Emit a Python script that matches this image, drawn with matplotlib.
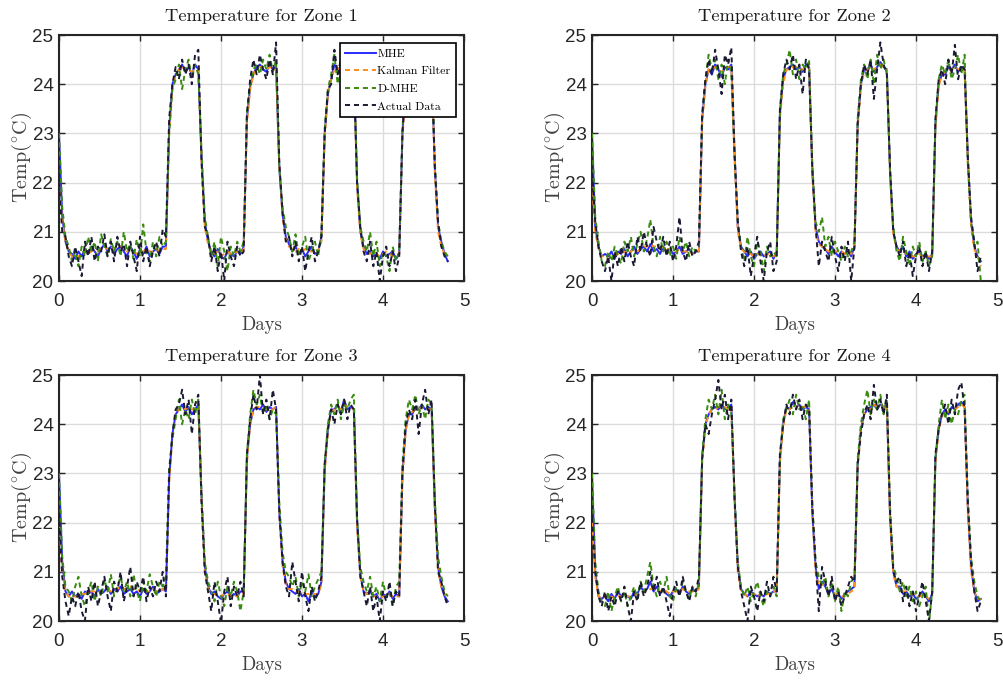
import numpy as np
import matplotlib
matplotlib.use("Agg")
import matplotlib.pyplot as plt

# ---------------- data (sampled every 0.04 day, 0 .. 4.8 days) ----------------
series_names = ["MHE", "Kalman Filter", "D-MHE", "Actual Data"]
zone_titles = ["Temperature for Zone 1", "Temperature for Zone 2",
               "Temperature for Zone 3", "Temperature for Zone 4"]
x_ticks = [0, 1, 2, 3, 4, 5]
y_ticks = [20, 21, 22, 23, 24, 25]

z1_mhe = [23.0, 21.3, 20.8, 20.6,
    20.55, 20.45, 20.6, 20.5, 20.65, 20.55, 20.7, 20.6, 20.5, 20.65, 20.75, 20.6, 20.7, 20.55, 20.65, 20.7, 20.6, 20.5, 20.7, 20.6, 20.45, 20.65, 20.55, 20.7, 20.5, 20.6, 20.65, 20.55, 20.7,
    20.7, 23.1, 24.0, 24.2,
    24.3, 24.4, 24.25, 24.35, 24.2, 24.4, 24.3,
    22.5, 21.2, 20.8,
    20.6, 20.5, 20.65, 20.5, 20.45, 20.6, 20.55, 20.5, 20.6, 20.55,
    20.7, 23.3, 23.95, 24.2,
    24.35, 24.4, 24.3, 24.25, 24.4, 24.3, 24.35,
    22.3, 21.35, 20.9, 20.75,
    20.6, 20.7, 20.55, 20.65, 20.5, 20.6, 20.7, 20.55, 20.6,
    20.9, 23.0, 23.8, 24.1,
    24.4, 24.3, 24.35, 24.2, 24.4, 24.3, 24.35,
    22.0, 21.0, 20.7,
    20.55, 20.6, 20.5, 20.55, 20.45, 20.6, 20.5, 20.55, 20.6, 20.45, 20.55,
    23.0, 24.0, 24.2,
    24.35, 24.3, 24.4, 24.3, 24.35, 24.25, 24.35,
    22.3, 21.1, 20.8, 20.55, 20.4]
z1_kf = [22.0, 21.2, 20.8, 20.6,
    20.5, 20.45, 20.5, 20.55, 20.6, 20.55, 20.6, 20.65, 20.6, 20.65, 20.7, 20.65, 20.7, 20.65, 20.7, 20.7, 20.65, 20.6, 20.65, 20.6, 20.55, 20.6, 20.6, 20.65, 20.6, 20.6, 20.65, 20.6, 20.65,
    20.65, 23.0, 23.9, 24.2,
    24.3, 24.35, 24.3, 24.3, 24.25, 24.3, 24.3,
    22.4, 21.1, 20.75,
    20.6, 20.55, 20.6, 20.5, 20.55, 20.6, 20.55, 20.55, 20.6, 20.55,
    20.65, 23.2, 23.9, 24.2,
    24.3, 24.35, 24.35, 24.3, 24.35, 24.3, 24.3,
    22.3, 21.3, 20.85, 20.7,
    20.65, 20.6, 20.65, 20.6, 20.65, 20.6, 20.6, 20.65, 20.6,
    20.8, 22.9, 23.8, 24.1,
    24.3, 24.3, 24.35, 24.3, 24.3, 24.35, 24.3,
    21.9, 20.95, 20.65,
    20.6, 20.55, 20.6, 20.55, 20.5, 20.55, 20.6, 20.55, 20.5, 20.55, 20.55,
    22.9, 23.9, 24.2,
    24.3, 24.3, 24.35, 24.3, 24.3, 24.3, 24.35,
    22.2, 21.0, 20.7, 20.55, 20.5]
z1_dmhe = [23.0, 21.5, 20.9, 20.7,
    20.4, 20.6, 20.3, 20.7, 20.5, 20.9, 20.6, 20.8, 20.4, 20.95, 20.7, 20.5, 20.85, 20.6, 20.8, 20.5, 21.0, 20.6, 20.75, 20.45, 20.85, 20.5, 21.15, 20.6, 20.4, 20.8, 20.5, 20.9, 20.7,
    20.8, 23.0, 23.9, 24.1,
    24.4, 23.9, 24.3, 24.5, 24.1, 24.4, 24.2,
    22.6, 21.3, 20.9,
    20.5, 20.8, 20.3, 20.9, 20.6, 20.2, 20.7, 20.5, 20.8, 20.6,
    20.8, 23.4, 24.0, 24.3,
    24.4, 24.2, 24.5, 24.3, 24.6, 24.25, 24.5,
    22.3, 21.5, 21.1, 20.9,
    20.6, 20.95, 20.5, 20.7, 20.9, 20.4, 20.6, 20.8, 20.5,
    21.0, 23.1, 23.9, 24.2,
    24.6, 24.0, 24.4, 24.2, 24.5, 24.3, 24.4,
    22.1, 21.1, 20.8,
    20.6, 21.0, 20.5, 20.8, 20.3, 20.6, 20.5, 20.2, 20.7, 20.4, 20.6,
    23.1, 24.0, 24.3,
    24.4, 24.2, 24.5, 24.3, 24.4, 24.2, 24.4,
    22.4, 21.2, 20.8, 20.6, 20.5]
z1_actual = [22.0, 21.0, 20.9, 20.5,
    20.3, 20.7, 20.4, 20.1, 20.8, 20.5, 20.9, 20.4, 20.7, 20.6, 20.95, 20.5, 20.8, 20.4, 20.9, 20.6, 20.75, 20.3, 20.8, 20.5, 20.2, 20.9, 20.4, 20.7, 20.3, 20.6, 20.8, 20.5, 21.05,
    20.9, 23.3, 24.0, 24.35,
    24.1, 24.5, 24.2, 24.4, 24.0, 24.6, 24.7,
    22.4, 21.1, 20.9,
    20.4, 20.7, 20.2, 20.6, 20.0, 20.8, 20.5, 20.3, 20.7, 20.5,
    20.6, 23.4, 24.1, 24.5,
    24.2, 24.6, 24.3, 24.1, 24.5, 24.2, 24.85,
    22.4, 21.4, 20.8, 20.9,
    20.5, 20.8, 20.4, 20.7, 20.2, 20.6, 20.9, 20.4, 20.6,
    20.9, 23.0, 23.9, 24.0,
    24.7, 24.2, 24.5, 23.9, 24.4, 24.6, 24.3,
    22.0, 21.1, 20.6,
    20.4, 20.8, 20.3, 20.6, 20.0, 20.5, 20.7, 20.3, 20.6, 20.2, 20.5,
    23.0, 24.1, 24.3,
    24.5, 24.2, 24.6, 24.3, 24.4, 24.1, 24.5,
    22.3, 21.2, 20.7, 20.5, 20.4]

z2_mhe = [23.0, 21.1, 20.7, 20.5,
    20.55, 20.5, 20.6, 20.45, 20.6, 20.55, 20.65, 20.5, 20.6, 20.7, 20.55, 20.65, 20.7, 20.6, 20.75, 20.6, 20.65, 20.55, 20.7, 20.6, 20.65, 20.55, 20.6, 20.7, 20.55, 20.6, 20.65, 20.55, 20.6,
    20.6, 23.3, 24.0, 24.3,
    24.2, 24.4, 24.3, 24.15, 24.35, 24.3, 24.4,
    22.6, 21.1, 20.7,
    20.6, 20.5, 20.6, 20.45, 20.55, 20.6, 20.5, 20.55, 20.6, 20.45,
    20.6, 23.4, 24.1, 24.3,
    24.35, 24.4, 24.3, 24.35, 24.25, 24.4, 24.35,
    22.2, 21.1, 20.8, 20.7,
    20.65, 20.55, 20.7, 20.6, 20.5, 20.6, 20.55, 20.6, 20.5,
    20.7, 23.2, 24.0, 24.3,
    24.3, 24.4, 24.25, 24.35, 24.45, 24.35, 24.3,
    22.2, 21.0, 20.7,
    20.6, 20.7, 20.5, 20.6, 20.45, 20.55, 20.6, 20.5, 20.55, 20.45, 20.55,
    23.2, 24.0, 24.2,
    24.2, 24.35, 24.3, 24.4, 24.25, 24.35, 24.3,
    22.5, 21.2, 20.7, 20.5, 20.4]
z2_kf = [22.0, 21.0, 20.65, 20.5,
    20.5, 20.45, 20.5, 20.5, 20.55, 20.55, 20.6, 20.55, 20.6, 20.65, 20.6, 20.65, 20.7, 20.7, 20.75, 20.7, 20.7, 20.65, 20.7, 20.65, 20.65, 20.6, 20.6, 20.65, 20.6, 20.6, 20.6, 20.55, 20.6,
    20.6, 23.2, 23.95, 24.3,
    24.3, 24.35, 24.3, 24.25, 24.3, 24.35, 24.35,
    22.5, 21.0, 20.65,
    20.6, 20.55, 20.55, 20.5, 20.55, 20.55, 20.5, 20.55, 20.55, 20.5,
    20.55, 23.3, 24.0, 24.3,
    24.3, 24.35, 24.35, 24.3, 24.3, 24.35, 24.35,
    22.2, 21.0, 20.75, 20.7,
    20.65, 20.6, 20.65, 20.6, 20.6, 20.6, 20.55, 20.6, 20.55,
    20.65, 23.1, 23.95, 24.25,
    24.3, 24.35, 24.3, 24.35, 24.4, 24.35, 24.3,
    22.1, 20.95, 20.65,
    20.6, 20.6, 20.55, 20.55, 20.5, 20.5, 20.55, 20.5, 20.5, 20.5, 20.5,
    23.1, 23.95, 24.2,
    24.25, 24.3, 24.3, 24.35, 24.3, 24.3, 24.3,
    22.4, 21.1, 20.65, 20.5, 20.3]
z2_dmhe = [23.0, 21.3, 20.8, 20.4,
    20.3, 20.6, 20.4, 20.7, 20.5, 20.35, 20.8, 20.6, 20.9, 20.5, 20.75, 21.0, 20.6, 20.85, 21.25, 20.7, 20.5, 20.9, 20.6, 20.8, 20.5, 20.7, 20.45, 20.9, 20.6, 20.8, 20.5, 20.7, 20.6,
    20.7, 23.3, 24.1, 24.6,
    24.3, 24.5, 24.1, 24.4, 24.0, 24.5, 24.2,
    22.5, 21.2, 20.7,
    20.4, 20.9, 20.5, 20.3, 20.8, 20.6, 20.2, 20.7, 20.5, 20.6,
    20.5, 23.4, 24.2, 24.4,
    24.7, 24.2, 24.5, 24.1, 24.4, 24.3, 24.5,
    22.4, 21.2, 21.0, 21.3,
    20.7, 20.9, 20.5, 20.8, 20.6, 20.4, 20.7, 20.5, 20.6,
    20.8, 23.3, 24.1, 24.4,
    24.1, 24.5, 24.0, 24.6, 24.3, 24.5, 24.2,
    22.2, 21.1, 20.6,
    20.4, 20.9, 20.6, 20.3, 20.7, 20.5, 20.8, 20.4, 20.6, 20.3, 20.5,
    23.2, 24.1, 24.4,
    24.2, 24.5, 24.1, 24.3, 24.6, 24.2, 24.6,
    22.4, 21.2, 20.7, 20.8, 20.0]
z2_actual = [22.2, 21.2, 20.7, 20.4,
    20.2, 20.5, 20.0, 20.6, 20.3, 20.7, 20.4, 20.8, 20.5, 20.3, 20.9, 20.6, 21.0, 20.7, 20.5, 21.1, 20.8, 20.6, 20.9, 20.5, 20.8, 20.4, 20.7, 21.3, 20.6, 20.4, 20.8, 20.5, 20.6,
    20.8, 23.4, 24.1, 24.5,
    24.2, 24.7, 24.3, 23.8, 24.6, 24.4, 24.75,
    22.6, 21.2, 20.6,
    20.3, 20.7, 20.1, 20.5, 20.9, 20.4, 20.0, 20.6, 20.8, 20.2,
    20.4, 23.5, 24.2, 24.5,
    24.3, 24.6, 24.1, 24.4, 23.8, 24.5, 24.3,
    22.3, 21.1, 20.3, 20.8,
    20.6, 20.4, 20.9, 20.5, 20.2, 20.7, 20.4, 20.8, 20.0,
    20.7, 23.2, 24.0, 24.4,
    24.2, 24.5, 23.7, 24.3, 24.85, 24.4, 24.2,
    22.3, 21.0, 20.7,
    20.5, 20.8, 20.3, 20.6, 20.1, 20.5, 20.7, 20.3, 20.6, 20.2, 20.6,
    23.3, 24.1, 24.3,
    24.0, 24.5, 24.2, 24.8, 24.1, 24.4, 24.3,
    22.5, 21.3, 20.8, 20.2, 20.5]

z3_mhe = [23.0, 21.2, 20.6, 20.5,
    20.6, 20.5, 20.55, 20.45, 20.6, 20.55, 20.6, 20.5, 20.65, 20.55, 20.6, 20.7, 20.55, 20.65, 20.6, 20.7, 20.55, 20.6, 20.65, 20.55, 20.6, 20.5, 20.65, 20.55, 20.6, 20.7, 20.55, 20.6, 20.65,
    20.6, 22.9, 23.8, 24.2,
    24.3, 24.4, 24.25, 24.35, 24.2, 24.3, 24.4,
    22.5, 21.1, 20.7,
    20.55, 20.6, 20.5, 20.45, 20.55, 20.6, 20.5, 20.55, 20.5, 20.6,
    20.6, 23.3, 24.0, 24.3,
    24.35, 24.3, 24.4, 24.25, 24.35, 24.3, 24.35,
    22.2, 21.2, 20.8, 20.65,
    20.6, 20.55, 20.65, 20.5, 20.55, 20.4, 20.6, 20.5, 20.55,
    20.8, 23.1, 23.9, 24.3,
    24.3, 24.4, 24.25, 24.5, 24.3, 24.35, 24.3,
    22.0, 20.95, 20.6,
    20.55, 20.6, 20.5, 20.55, 20.4, 20.55, 20.5, 20.6, 20.45, 20.55, 20.5,
    23.0, 23.9, 24.2,
    24.2, 24.35, 24.3, 24.4, 24.3, 24.35, 24.3,
    22.3, 21.1, 20.7, 20.5, 20.4]
z3_kf = [22.0, 21.0, 20.6, 20.5,
    20.5, 20.5, 20.5, 20.55, 20.55, 20.6, 20.6, 20.6, 20.6, 20.6, 20.65, 20.65, 20.6, 20.65, 20.65, 20.7, 20.65, 20.65, 20.7, 20.65, 20.65, 20.6, 20.65, 20.6, 20.6, 20.65, 20.6, 20.6, 20.65,
    20.6, 22.8, 23.75, 24.2,
    24.3, 24.35, 24.3, 24.35, 24.3, 24.3, 24.35,
    22.4, 21.0, 20.65,
    20.55, 20.55, 20.5, 20.5, 20.55, 20.55, 20.5, 20.55, 20.5, 20.55,
    20.55, 23.2, 24.0, 24.3,
    24.35, 24.35, 24.35, 24.3, 24.3, 24.3, 24.35,
    22.2, 21.1, 20.75, 20.65,
    20.65, 20.6, 20.6, 20.55, 20.55, 20.55, 20.55, 20.55, 20.55,
    20.75, 23.0, 23.85, 24.25,
    24.3, 24.35, 24.3, 24.4, 24.35, 24.35, 24.3,
    21.9, 20.9, 20.6,
    20.55, 20.55, 20.5, 20.5, 20.45, 20.5, 20.5, 20.55, 20.5, 20.5, 20.5,
    22.9, 23.85, 24.2,
    24.25, 24.3, 24.3, 24.35, 24.35, 24.3, 24.3,
    22.2, 21.0, 20.7, 20.55, 20.45]
z3_dmhe = [23.0, 21.3, 20.7, 20.6,
    20.4, 20.7, 20.9, 20.5, 20.3, 20.6, 20.8, 20.4, 20.7, 20.5, 20.85, 20.6, 20.95, 20.5, 20.7, 20.9, 20.6, 20.8, 20.5, 20.95, 20.6, 20.4, 20.8, 20.6, 20.95, 20.7, 20.5, 20.8, 20.7,
    20.9, 23.1, 23.7, 24.1,
    24.5, 24.0, 24.3, 24.1, 24.5, 24.2, 24.5,
    22.6, 21.2, 20.8,
    20.6, 20.4, 20.8, 20.5, 20.3, 20.7, 20.5, 20.8, 20.6, 20.2,
    20.6, 23.4, 24.2, 24.7,
    24.4, 24.6, 24.2, 24.4, 24.1, 24.3, 24.2,
    22.4, 21.4, 21.0, 20.9,
    20.7, 20.9, 20.5, 20.8, 20.6, 20.95, 20.5, 20.7, 20.85,
    21.0, 23.2, 24.0, 24.4,
    24.2, 24.5, 24.1, 24.4, 24.3, 24.5, 24.6,
    22.1, 21.1, 20.8,
    20.6, 20.9, 20.5, 20.7, 20.4, 20.8, 20.5, 20.6, 20.3, 20.7, 20.8,
    23.2, 24.1, 24.5,
    24.3, 24.6, 24.2, 24.4, 24.1, 24.5, 24.4,
    22.5, 21.3, 20.9, 20.6, 20.5]
z3_actual = [22.2, 20.9, 20.4, 20.1,
    20.5, 20.3, 20.6, 20.2, 20.0, 20.7, 20.4, 20.8, 20.3, 20.6, 20.9, 20.5, 20.2, 20.8, 20.6, 21.0, 20.4, 20.7, 21.1, 20.5, 20.8, 20.6, 20.9, 20.4, 20.7, 20.5, 20.8, 20.6, 21.0,
    20.5, 23.0, 23.8, 24.3,
    24.4, 24.7, 24.2, 24.5, 23.8, 24.4, 24.6,
    22.4, 21.0, 20.6,
    20.2, 20.8, 20.4, 19.95, 20.6, 20.9, 20.3, 20.7, 20.5, 20.8,
    20.5, 23.4, 24.1, 24.6,
    24.3, 25.0, 24.2, 24.5, 24.1, 24.7, 24.3,
    22.2, 21.2, 20.7, 20.5,
    21.2, 20.8, 20.4, 21.0, 20.5, 20.2, 20.7, 20.4, 20.6,
    20.9, 23.2, 23.9, 24.3,
    24.0, 24.4, 24.2, 24.5, 24.1, 24.4, 24.3,
    22.1, 20.9, 20.6,
    20.3, 20.7, 20.2, 20.5, 20.0, 20.6, 20.4, 20.8, 20.3, 20.6, 20.5,
    23.0, 24.0, 24.3,
    24.1, 24.5, 23.8, 24.4, 24.7, 24.2, 24.5,
    22.4, 21.0, 20.8, 20.5, 20.3]

z4_mhe = [23.0, 21.0, 20.5, 20.45,
    20.5, 20.4, 20.55, 20.45, 20.6, 20.5, 20.55, 20.5, 20.45, 20.6, 20.55, 20.7, 20.6, 20.65, 20.8, 20.6, 20.7, 20.55, 20.65, 20.55, 20.5, 20.6, 20.65, 20.55, 20.7, 20.6, 20.55, 20.65, 20.6,
    20.7, 23.3, 24.0, 24.2,
    24.3, 24.35, 24.3, 24.4, 24.3, 24.35, 24.4,
    22.5, 21.1, 20.65,
    20.55, 20.5, 20.6, 20.55, 20.5, 20.55, 20.5, 20.6, 20.55, 20.6,
    20.6, 23.3, 24.0, 24.35,
    24.3, 24.45, 24.35, 24.4, 24.3, 24.35, 24.3,
    22.2, 21.1, 20.65, 20.8,
    20.7, 20.55, 20.65, 20.5, 20.55, 20.45, 20.55, 20.6, 20.65,
    20.7, 23.2, 23.9, 24.2,
    24.3, 24.35, 24.4, 24.3, 24.4, 24.35, 24.4,
    22.1, 21.0, 20.7,
    20.7, 20.55, 20.6, 20.5, 20.55, 20.45, 20.5, 20.6, 20.5, 20.4, 20.55,
    23.3, 23.9, 24.2,
    24.3, 24.2, 24.35, 24.3, 24.4, 24.45, 24.35,
    22.3, 21.1, 20.6, 20.4, 20.45]
z4_kf = [22.0, 20.9, 20.5, 20.45,
    20.5, 20.45, 20.5, 20.45, 20.5, 20.5, 20.55, 20.5, 20.5, 20.55, 20.55, 20.6, 20.6, 20.6, 20.65, 20.65, 20.65, 20.6, 20.65, 20.6, 20.55, 20.6, 20.6, 20.6, 20.65, 20.6, 20.6, 20.6, 20.6,
    20.65, 23.2, 23.95, 24.2,
    24.3, 24.3, 24.35, 24.35, 24.35, 24.3, 24.35,
    22.4, 21.0, 20.6,
    20.55, 20.5, 20.55, 20.55, 20.5, 20.55, 20.5, 20.55, 20.55, 20.6,
    20.6, 23.2, 23.95, 24.3,
    24.3, 24.4, 24.35, 24.4, 24.35, 24.35, 24.3,
    22.2, 21.0, 20.7, 20.75,
    20.7, 20.6, 20.6, 20.55, 20.55, 20.5, 20.5, 20.55, 20.6,
    20.65, 23.1, 23.85, 24.2,
    24.3, 24.3, 24.4, 24.35, 24.4, 24.35, 24.4,
    22.0, 20.95, 20.7,
    20.65, 20.6, 20.6, 20.55, 20.55, 20.5, 20.5, 20.55, 20.5, 20.45, 20.5,
    23.2, 23.85, 24.2,
    24.25, 24.25, 24.3, 24.3, 24.35, 24.4, 24.35,
    22.2, 21.0, 20.6, 20.45, 20.45]
z4_dmhe = [23.0, 21.2, 20.6, 20.4,
    20.3, 20.6, 20.2, 20.5, 20.7, 20.4, 20.6, 20.3, 20.5, 20.7, 20.45, 20.8, 20.6, 20.9, 21.2, 20.7, 20.5, 20.8, 20.6, 20.9, 20.5, 20.4, 20.7, 20.5, 20.8, 20.6, 20.45, 20.7, 20.5,
    20.8, 23.4, 24.1, 24.5,
    24.3, 24.6, 24.2, 24.7, 24.1, 24.4, 24.2,
    22.6, 21.2, 20.7,
    20.5, 20.7, 20.4, 20.6, 20.8, 20.5, 20.3, 20.6, 20.5, 20.7,
    20.5, 23.3, 24.1, 24.3,
    24.5, 24.2, 24.6, 24.3, 24.4, 24.1, 24.5,
    22.4, 21.2, 20.9, 20.7,
    20.9, 20.5, 20.8, 20.4, 20.7, 20.2, 20.6, 20.5, 20.8,
    20.9, 23.3, 24.0, 24.4,
    24.7, 24.2, 24.5, 24.3, 24.6, 24.2, 24.5,
    22.3, 21.1, 20.9,
    20.6, 20.8, 20.5, 20.7, 20.4, 20.6, 20.3, 20.5, 20.7, 19.95, 20.6,
    23.3, 24.0, 24.5,
    24.1, 24.4, 24.0, 24.3, 24.2, 24.5, 24.6,
    22.5, 21.3, 20.8, 20.5, 20.4]
z4_actual = [22.1, 21.0, 20.5, 20.3,
    20.6, 20.2, 20.5, 20.3, 20.6, 20.4, 20.7, 20.3, 20.0, 20.6, 20.4, 20.8, 20.5, 20.7, 21.0, 20.6, 20.9, 20.5, 20.7, 20.4, 20.1, 20.6, 20.8, 20.5, 20.9, 20.6, 20.4, 20.7, 20.6,
    20.9, 23.3, 24.0, 23.8,
    24.2, 24.5, 24.9, 24.3, 24.6, 24.1, 24.5,
    22.5, 21.1, 20.6,
    20.3, 20.0, 20.7, 20.5, 20.2, 20.6, 20.4, 20.8, 20.5, 20.9,
    20.6, 23.4, 24.0, 24.4,
    24.2, 24.6, 24.3, 24.5, 24.1, 24.4, 24.3,
    22.3, 21.2, 20.2, 21.1,
    20.8, 20.5, 20.9, 20.4, 20.6, 20.3, 20.5, 20.7, 20.9,
    20.8, 23.2, 23.8, 24.2,
    24.4, 24.1, 24.8, 24.3, 24.5, 24.2, 24.6,
    22.2, 21.0, 20.8,
    20.9, 20.4, 20.7, 20.3, 20.6, 20.2, 20.5, 20.8, 20.4, 20.0, 20.6,
    23.4, 23.9, 24.2,
    24.4, 24.0, 24.5, 24.2, 24.7, 24.85, 24.3,
    22.4, 21.2, 20.6, 20.2, 20.4]

zones = [
    (z1_mhe, z1_kf, z1_dmhe, z1_actual),
    (z2_mhe, z2_kf, z2_dmhe, z2_actual),
    (z3_mhe, z3_kf, z3_dmhe, z3_actual),
    (z4_mhe, z4_kf, z4_dmhe, z4_actual),
]

# ---------------- style ----------------
colors = ["#2a2aff", "#ff8c1a", "#3a8c10", "#1a1a33"]
styles = ["-", (0, (2.6, 2.0)), (0, (2.6, 2.0)), (0, (2.6, 2.0))]
serif = "cmr10"
plt.rcParams["mathtext.fontset"] = "cm"
plt.rcParams["axes.formatter.use_mathtext"] = False

fig = plt.figure(figsize=(10.04, 6.81), dpi=100)
W, H = 1004.0, 681.0
boxes = [(59, 35, 464, 281), (592, 35, 997, 281),
         (59, 375, 464, 621), (592, 375, 997, 621)]

for i, (ser, (x0, y0, x1, y1)) in enumerate(zip(zones, boxes)):
    ax = fig.add_axes([x0 / W, 1 - y1 / H, (x1 - x0) / W, (y1 - y0) / H])
    for j, vals in enumerate(ser):
        days = np.linspace(0, 4.8, len(vals))
        ax.plot(days, vals, color=colors[j], linestyle=styles[j], lw=1.4,
                label=series_names[j], zorder=2 + j)
    ax.set_xlim(0, 5)
    ax.set_ylim(20, 25)
    ax.set_xticks(x_ticks)
    ax.set_yticks(y_ticks)
    ax.grid(True, color="#dcdcdc", lw=1.0, zorder=0)
    ax.set_axisbelow(True)
    ax.tick_params(direction="in", length=4, width=1.0, top=True, right=True,
                   labelsize=13.5, colors="#262626")
    ax.tick_params(axis="x", pad=9)
    ax.tick_params(axis="y", pad=4)
    for lab in ax.get_xticklabels() + ax.get_yticklabels():
        lab.set_fontfamily("Liberation Sans")
    for sp in ax.spines.values():
        sp.set_linewidth(1.5)
        sp.set_color("#262626")
    ax.set_title(zone_titles[i], fontfamily=serif, fontsize=13.3, pad=10,
                 color="#1a1a1a")
    ax.set_xlabel("Days", fontfamily=serif, fontsize=13.5, labelpad=4,
                  color="#404040")
    ax.set_ylabel(r"$\mathrm{Temp}(^{\circ}\mathrm{C})$", fontsize=14.5,
                  labelpad=-1, color="#404040")
    if i == 0:
        leg = ax.legend(loc="upper right", prop={"family": serif, "size": 8.5},
                        frameon=True, fancybox=False, edgecolor="black",
                        framealpha=1.0, borderpad=0.5, labelspacing=0.62,
                        handlelength=2.6, handletextpad=0.1,
                        borderaxespad=0.65)
        leg.get_frame().set_linewidth(1.2)
        leg.set_zorder(20)

fig.savefig("out.png", dpi=100)
